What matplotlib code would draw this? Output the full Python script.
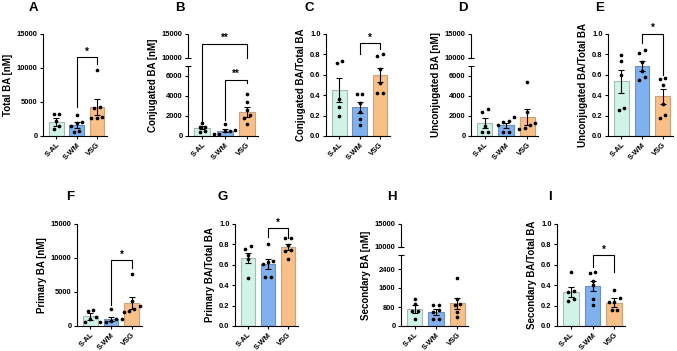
"""
Bile acid panels A-I: bar (mean +/- SEM) with individual points,
three groups per panel, some panels with a broken y axis.
"""

import numpy as np
import matplotlib
matplotlib.use("Agg")
import matplotlib.pyplot as plt

plt.rcParams["font.family"] = ["Liberation Sans", "DejaVu Sans"]
plt.rcParams["font.weight"] = "bold"
plt.rcParams["axes.labelweight"] = "bold"

GROUPS = ["S-AL", "S-WM", "VSG"]

# ---- data (points, bar means, SEM) ----
total_ba_points = [[3300, 3200, 2250, 1500, 1000],
                   [3100, 2100, 1850, 1500, 800, 650],
                   [9700, 4200, 4050, 2800, 2600, 2600]]
total_ba_mean = [2050, 1650, 4300]
total_ba_sem = [550, 400, 1150]

conj_ba_points = [[1350, 950, 950, 550, 450],
                  [1250, 600, 550, 550, 200, 200],
                  [4200, 3450, 2600, 2100, 1850, 1200]]
conj_ba_mean = [850, 520, 2400]
conj_ba_sem = [170, 160, 480]

conj_ratio_points = [[0.74, 0.72, 0.365, 0.28, 0.195],
                     [0.41, 0.41, 0.325, 0.24, 0.17, 0.11],
                     [0.785, 0.80, 0.66, 0.515, 0.42, 0.42]]
conj_ratio_mean = [0.45, 0.28, 0.60]
conj_ratio_sem = [0.12, 0.05, 0.07]

unconj_ba_points = [[2700, 2370, 1030, 430, 430],
                    [1870, 1530, 1430, 1100, 430, 370],
                    [5430, 2370, 1270, 1100, 830, 670]]
unconj_ba_mean = [1300, 1100, 1900]
unconj_ba_sem = [480, 250, 780]

unconj_ratio_points = [[0.79, 0.74, 0.60, 0.27, 0.254],
                       [0.84, 0.81, 0.726, 0.64, 0.58, 0.547],
                       [0.567, 0.557, 0.50, 0.31, 0.205, 0.18]]
unconj_ratio_mean = [0.535, 0.69, 0.39]
unconj_ratio_sem = [0.115, 0.05, 0.075]

primary_ba_points = [[2300, 2150, 1330, 1000, 600],
                     [2450, 1080, 1080, 700, 600, 600],
                     [7650, 3650, 2900, 2500, 2200, 2000]]
primary_ba_mean = [1400, 1080, 3400]
primary_ba_sem = [450, 300, 850]

primary_ratio_points = [[0.78, 0.755, 0.70, 0.66, 0.47],
                        [0.80, 0.64, 0.625, 0.605, 0.48, 0.48],
                        [0.86, 0.86, 0.79, 0.745, 0.735, 0.657]]
primary_ratio_mean = [0.67, 0.61, 0.775]
primary_ratio_sem = [0.05, 0.05, 0.033]

secondary_ba_points = [[1150, 940, 620, 620, 280],
                       [870, 870, 660, 600, 280, 280],
                       [2020, 1120, 940, 870, 590, 380]]
secondary_ba_mean = [710, 590, 950]
secondary_ba_sem = [180, 120, 240]

secondary_ratio_points = [[0.53, 0.34, 0.33, 0.262, 0.243],
                          [0.53, 0.515, 0.44, 0.40, 0.26, 0.21],
                          [0.35, 0.275, 0.236, 0.236, 0.154, 0.154]]
secondary_ratio_mean = [0.335, 0.39, 0.23]
secondary_ratio_sem = [0.05, 0.05, 0.04]

# significance brackets: (group i, group j, left leg end, top, right leg end, label)
total_ba_sig = [(1, 2, 4300, 11600, 10600, "*")]
conj_ba_sig = [(0, 2, 1500, 13000, 10000, "**"), (1, 2, 1600, 5600, 5300, "**")]
conj_ratio_sig = [(1, 2, 0.80, 0.91, 0.85, "*")]
unconj_ratio_sig = [(1, 2, 0.91, 1.0, 0.60, "*")]
primary_ba_sig = [(1, 2, 3050, 9700, 8500, "*")]
primary_ratio_sig = [(1, 2, 0.876, 0.957, 0.866, "*")]
secondary_ratio_sig = [(1, 2, 0.58, 0.695, 0.525, "*")]

CONC_TICKS = [0, 5000, 10000, 15000]
RATIO_TICKS = [0.0, 0.2, 0.4, 0.6, 0.8, 1.0]
BROKEN_TICKS = [0, 2000, 4000, 6000, 10000, 15000]
SECONDARY_TICKS = [0, 800, 1600, 2400, 10000, 15000]

BAR_COLORS = ["#cff4e6", "#7eb1ee", "#f8bf86"]
EDGE_COLORS = ["#a6b8b1", "#6d8fb8", "#c9a27c"]

FIG_W, FIG_H = 677, 351


def break_scale(lo_top, up_bot, top, lo_frac, up_frac):
    """Piecewise linear y scale for a broken axis."""
    xp = np.array([0.0, lo_top, up_bot, top])
    fp = np.array([0.0, lo_frac, up_frac, 1.0])

    def fwd(v):
        v = np.asarray(v, float)
        out = np.interp(v, xp, fp)
        out = np.where(v < 0, v * fp[1] / xp[1], out)
        out = np.where(v > top, 1 + (v - top) * (1 - fp[2]) / (top - xp[2]), out)
        return out

    def inv(u):
        u = np.asarray(u, float)
        out = np.interp(u, fp, xp)
        out = np.where(u < 0, u * xp[1] / fp[1], out)
        out = np.where(u > 1, top + (u - 1) * (top - xp[2]) / (1 - fp[2]), out)
        return out

    return fwd, inv


def swarm_x(ax, x, ys, spacing_px=5.4, thresh_px=4.0):
    """Spread points sideways when they would overlap (like a beeswarm)."""
    ys = np.asarray(ys, float)
    disp_y = ax.transData.transform(np.column_stack([np.full(len(ys), x), ys]))[:, 1]
    order = np.argsort(disp_y)
    rows, current = [], [order[0]]
    for idx in order[1:]:
        if disp_y[idx] - disp_y[current[-1]] < thresh_px:
            current.append(idx)
        else:
            rows.append(current)
            current = [idx]
    rows.append(current)
    px_per_unit = (ax.transData.transform([[1, 0]])[0, 0]
                   - ax.transData.transform([[0, 0]])[0, 0])
    offs = np.zeros(len(ys))
    for row in rows:
        n = len(row)
        for k, idx in enumerate(row):
            offs[idx] = (k - (n - 1) / 2) * spacing_px / px_per_unit
    return x + offs


def draw_panel(fig, box, letter, letter_xy, ylabel, points, means, sems,
               ticks, top, sig=(), broken=None):
    x0, x1, ytop, ybot = box
    ax = fig.add_axes([x0 / FIG_W, 1 - ybot / FIG_H,
                       (x1 - x0) / FIG_W, (ybot - ytop) / FIG_H])
    if broken is not None:
        fwd, inv = break_scale(*broken)
        ax.set_yscale("function", functions=(fwd, inv))
    ax.set_xlim(-0.65, 2.5)
    ax.set_ylim(0, top)

    pos = np.arange(len(GROUPS))
    ax.bar(pos, means, width=0.72, color=BAR_COLORS, edgecolor=EDGE_COLORS,
           linewidth=0.8, zorder=1)
    ax.errorbar(pos, means, yerr=sems, fmt="none", ecolor="black",
                elinewidth=0.8, capsize=2, capthick=0.8, zorder=3)
    for i, pts in enumerate(points):
        ax.scatter(swarm_x(ax, i, pts), pts, s=7, color="black",
                   linewidths=0, zorder=4, clip_on=False)

    for i, j, yl, yt, yr, label in sig:
        ax.plot([i, i, j, j], [yl, yt, yt, yr], color="black", lw=0.8,
                clip_on=False, zorder=5)
        ax.annotate(label, ((i + j) / 2, yt), xytext=(0, 0.5),
                    textcoords="offset points", ha="center", va="bottom",
                    fontsize=7, annotation_clip=False)

    for side in ("top", "right"):
        ax.spines[side].set_visible(False)
    ax.spines["bottom"].set_linewidth(0.8)
    ax.spines["left"].set_linewidth(0.8)
    if broken is not None:
        lo_top, up_bot = broken[0], broken[1]
        ax.spines["left"].set_visible(False)
        trans = ax.get_yaxis_transform()
        for a, b in ((0, lo_top), (up_bot, top)):
            ax.plot([0, 0], [a, b], transform=trans, color="black", lw=0.8,
                    clip_on=False, solid_capstyle="butt")
        ax.plot([0, 0], [lo_top, up_bot], transform=trans, ls="none",
                marker="_", ms=5, mew=0.8, color="black", clip_on=False)

    ax.set_yticks(ticks)
    ax.set_xticks(pos)
    ax.set_xticklabels(GROUPS, rotation=45, ha="right", va="top",
                       rotation_mode="anchor")
    ax.tick_params(axis="both", labelsize=5.4, length=2.4, width=0.8, pad=1.5)
    ax.set_ylabel(ylabel, fontsize=7, labelpad=3)
    fig.text(letter_xy[0] / FIG_W, 1 - letter_xy[1] / FIG_H, letter,
             fontsize=9.5, ha="center", va="center")
    return ax


def main() -> None:
    fig = plt.figure(figsize=(FIG_W / 100, FIG_H / 100), dpi=100)
    top_row = (34, 136)
    bot_row = (224, 326)

    draw_panel(fig, (43, 107) + top_row, "A", (33, 8), "Total BA [nM]",
               total_ba_points, total_ba_mean, total_ba_sem,
               CONC_TICKS, 15000, total_ba_sig)
    draw_panel(fig, (188, 258) + top_row, "B", (180, 8), "Conjugated BA [nM]",
               conj_ba_points, conj_ba_mean, conj_ba_sem,
               BROKEN_TICKS, 15000, conj_ba_sig,
               broken=(7000, 10000, 15000, 70 / 102, 78 / 102))
    draw_panel(fig, (326, 390) + top_row, "C", (309, 8), "Conjugated BA/Total BA",
               conj_ratio_points, conj_ratio_mean, conj_ratio_sem,
               RATIO_TICKS, 1.0, conj_ratio_sig)
    draw_panel(fig, (471, 538) + top_row, "D", (463, 8), "Unconjugated BA [nM]",
               unconj_ba_points, unconj_ba_mean, unconj_ba_sem,
               BROKEN_TICKS, 15000,
               broken=(7000, 10000, 15000, 70 / 102, 78 / 102))
    draw_panel(fig, (608, 673) + top_row, "E", (600, 8), "Unconjugated BA/Total BA",
               unconj_ratio_points, unconj_ratio_mean, unconj_ratio_sem,
               RATIO_TICKS, 1.0, unconj_ratio_sig)

    draw_panel(fig, (77, 142) + bot_row, "F", (70, 197), "Primary BA [nM]",
               primary_ba_points, primary_ba_mean, primary_ba_sem,
               CONC_TICKS, 15000, primary_ba_sig)
    draw_panel(fig, (235, 298) + bot_row, "G", (223, 197), "Primary BA/Total BA",
               primary_ratio_points, primary_ratio_mean, primary_ratio_sem,
               RATIO_TICKS, 1.0, primary_ratio_sig)
    draw_panel(fig, (401, 468) + bot_row, "H", (392, 197), "Secondary BA [nM]",
               secondary_ba_points, secondary_ba_mean, secondary_ba_sem,
               SECONDARY_TICKS, 15000,
               broken=(3000, 10000, 15000, 71.25 / 102, 79 / 102))
    draw_panel(fig, (557, 625) + bot_row, "I", (550, 197), "Secondary BA/Total BA",
               secondary_ratio_points, secondary_ratio_mean, secondary_ratio_sem,
               RATIO_TICKS, 1.0, secondary_ratio_sig)

    fig.savefig("out.png", dpi=100)


if __name__ == "__main__":
    main()
